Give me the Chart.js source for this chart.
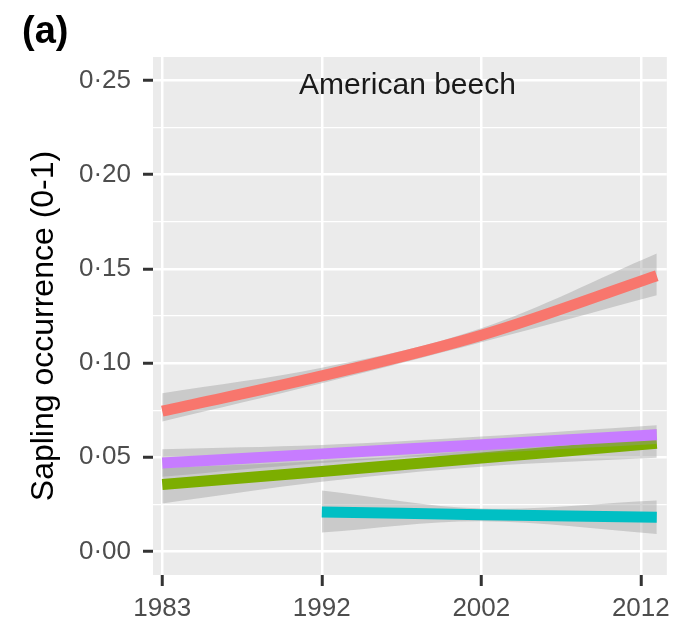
<!DOCTYPE html>
<html>
<head>
<meta charset="utf-8">
<script src="https://cdn.jsdelivr.net/npm/chart.js@4.4.1/dist/chart.umd.min.js"></script>
<style>
html,body{margin:0;padding:0;background:#fff;}
#wrap{width:677px;height:622px;position:relative;}
canvas{display:block;}
</style>
</head>
<body>
<div id="wrap"><canvas id="c" width="677" height="622"></canvas></div>
<script>
// ---- data ----
const yearLabels = ['1983', '1992', '2002', '2012'];
const xFull = [0, 1, 2, 3.1];      // position along the evenly spaced survey axis
const xCyan = [1, 2, 3.1];

const redMean  = [0.0745, 0.0932, 0.1148, 0.1464];
const redLow   = [0.0690, 0.0893, 0.1110, 0.1360];
const redHigh  = [0.0840, 0.0975, 0.1185, 0.1582];

const greenMean = [0.0355, 0.0425, 0.0496, 0.0574];
const greenLow  = [0.0255, 0.0370, 0.0450, 0.0497];
const greenHigh = [0.0443, 0.0480, 0.0540, 0.0650];

const cyanMean = [0.0210, 0.0195, 0.0182];
const cyanLow  = [0.0100, 0.0160, 0.0093];
const cyanHigh = [0.0324, 0.0228, 0.0270];

const purpleMean = [0.0470, 0.0518, 0.0567, 0.0619];
const purpleLow  = [0.0397, 0.0470, 0.0520, 0.0570];
const purpleHigh = [0.0543, 0.0565, 0.0610, 0.0670];

const yTickValues = [0, 0.025, 0.05, 0.075, 0.1, 0.125, 0.15, 0.175, 0.2, 0.225, 0.25];

const COLORS = {red:'#F8766D', green:'#7CAE00', cyan:'#00BFC4', purple:'#C77CFF'};
const RIBBON = 'rgba(153,153,153,0.4)';

function pts(xs, ys){ return xs.map((x,i)=>({x:x, y:ys[i]})); }

const groups = [
  {xs:xFull, mean:redMean,    low:redLow,    high:redHigh,    color:COLORS.red},
  {xs:xFull, mean:greenMean,  low:greenLow,  high:greenHigh,  color:COLORS.green},
  {xs:xCyan, mean:cyanMean,   low:cyanLow,   high:cyanHigh,   color:COLORS.cyan},
  {xs:xFull, mean:purpleMean, low:purpleLow, high:purpleHigh, color:COLORS.purple}
];

const datasets = [];
groups.forEach((g, gi) => {
  const base = 100 - gi*10;
  datasets.push({data:pts(g.xs,g.low), borderWidth:0, pointRadius:0, fill:false,
    tension:0.35, order:base+2, borderColor:'rgba(0,0,0,0)'});
  datasets.push({data:pts(g.xs,g.high), borderWidth:0, pointRadius:0, fill:'-1',
    backgroundColor:RIBBON, tension:0.35, order:base+1, borderColor:'rgba(0,0,0,0)'});
  datasets.push({data:pts(g.xs,g.mean), borderWidth:11, pointRadius:0, fill:false,
    borderColor:g.color, tension:0.35, order:base, borderCapStyle:'butt'});
});

const FONT = '"Liberation Sans", Arial, sans-serif';
const isMajor = v => Math.abs(v/0.05 - Math.round(v/0.05)) < 1e-6;

const decor = {
  id:'decor',
  beforeDraw(chart){
    const {ctx, chartArea:a} = chart;
    ctx.save();
    ctx.fillStyle = '#ffffff';
    ctx.fillRect(0,0,chart.width,chart.height);
    ctx.fillStyle = '#EBEBEB';
    ctx.fillRect(a.left, a.top, a.right-a.left, a.bottom-a.top);
    ctx.restore();
  },
  afterDraw(chart){
    const {ctx, chartArea:a} = chart;
    ctx.save();
    ctx.fillStyle = '#000';
    ctx.font = 'bold 38px ' + FONT;
    ctx.textAlign = 'left';
    ctx.textBaseline = 'alphabetic';
    ctx.fillText('(a)', 22, 43);

    ctx.fillStyle = '#1a1a1a';
    ctx.font = '30px ' + FONT;
    ctx.textAlign = 'center';
    ctx.fillText('American beech', 407.5, 94);

    ctx.translate(53, 326);
    ctx.rotate(-Math.PI/2);
    ctx.font = '32px ' + FONT;
    ctx.fillStyle = '#000';
    ctx.textAlign = 'center';
    ctx.fillText('Sapling occurrence (0-1)', 0, 0);
    ctx.restore();
  }
};

new Chart(document.getElementById('c'), {
  type:'line',
  data:{datasets:datasets},
  plugins:[decor],
  options:{
    responsive:false,
    animation:false,
    layout:{padding:{top:57, right:5, left:0, bottom:0}},
    plugins:{legend:{display:false}, tooltip:{enabled:false}},
    scales:{
      x:{
        type:'linear', min:-0.058, max:3.163,
        afterBuildTicks(scale){ scale.ticks = yearLabels.map((_,i)=>({value:i})); },
        afterFit(scale){ scale.height = 47; },
        ticks:{
          callback:(v)=> yearLabels[Math.round(v)],
          font:{family:FONT, size:26}, color:'#4D4D4D', padding:7, maxRotation:0, autoSkip:false
        },
        grid:{color:'#ffffff', lineWidth:2.5, tickColor:'#333333', tickWidth:3, tickLength:11, drawTicks:true},
        border:{display:false}
      },
      y:{
        type:'linear', min:-0.0125, max:0.2625,
        afterBuildTicks(scale){ scale.ticks = yTickValues.map(v=>({value:v})); },
        afterFit(scale){ scale.width = 153; },
        ticks:{
          callback:(v)=> isMajor(v) ? v.toFixed(2).replace('.', '\u00B7') : '',
          font:{family:FONT, size:26}, color:'#4D4D4D', padding:12, autoSkip:false
        },
        grid:{
          color:'#ffffff',
          lineWidth:(c)=> isMajor(c.tick.value) ? 2.5 : 1.2,
          tickColor:(c)=> isMajor(c.tick.value) ? '#333333' : 'rgba(0,0,0,0)',
          tickWidth:3, tickLength:10, drawTicks:true
        },
        border:{display:false}
      }
    }
  }
});
</script>
</body>
</html>
